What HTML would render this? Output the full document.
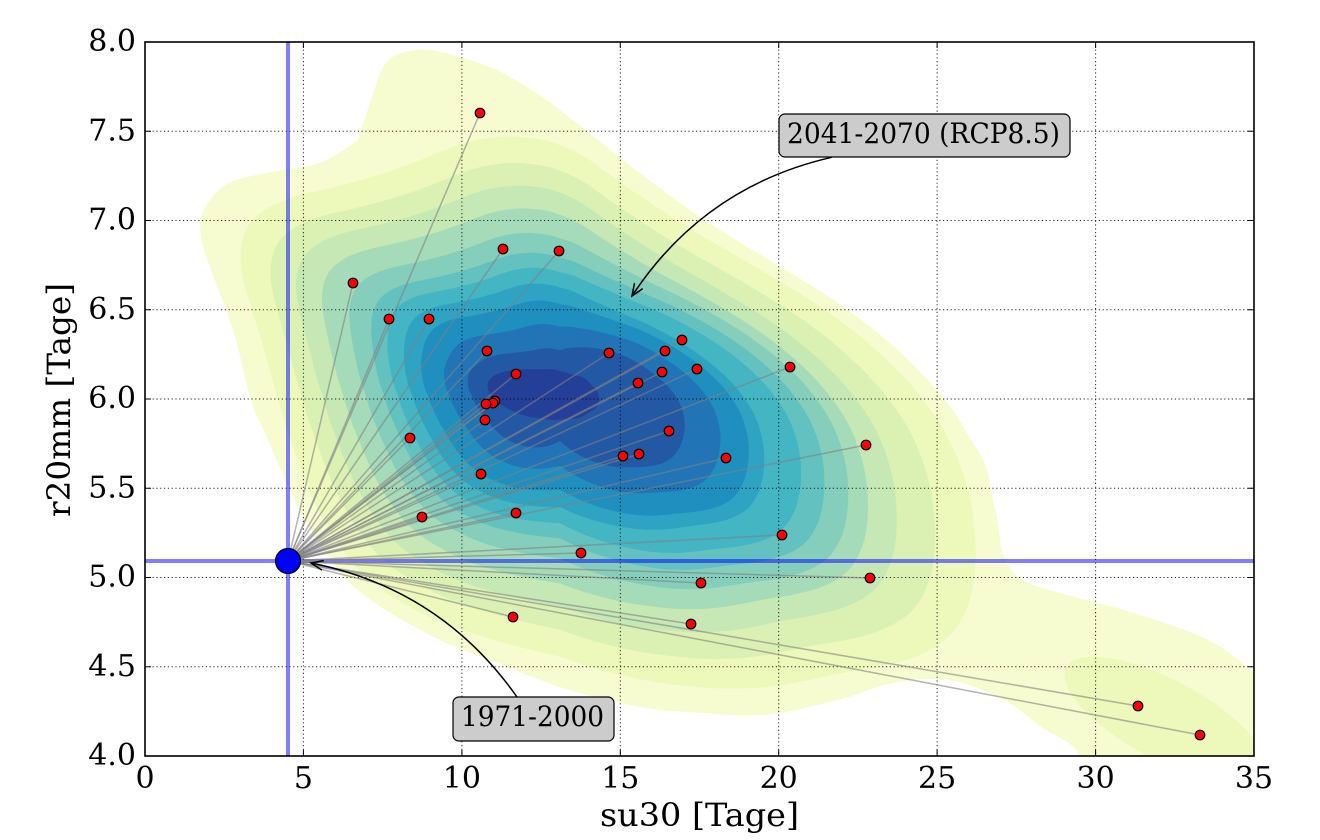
<!DOCTYPE html>
<html>
<head>
<meta charset="utf-8">
<style>
  html,body{margin:0;padding:0;background:#fff;}
  svg{display:block;}
  text{font-family:"DejaVu Serif","Liberation Serif",serif;fill:#000;}
</style>
</head>
<body>
<svg id="svg" xmlns="http://www.w3.org/2000/svg" width="1320" height="840" viewBox="0 0 1320 840">
  <defs>
    <clipPath id="ax"><rect x="145" y="42" width="1109" height="714"/></clipPath>
  </defs>
  <rect x="0" y="0" width="1320" height="840" fill="#fff"/>

  <!-- contours -->
  <g id="contours" clip-path="url(#ax)"></g>

  <!-- grid -->
  <g stroke="#000" stroke-width="1" stroke-dasharray="1.2,2.6" fill="none" opacity="0.85">
    <line x1="303.4" y1="42" x2="303.4" y2="756"/>
    <line x1="461.9" y1="42" x2="461.9" y2="756"/>
    <line x1="620.3" y1="42" x2="620.3" y2="756"/>
    <line x1="778.7" y1="42" x2="778.7" y2="756"/>
    <line x1="937.1" y1="42" x2="937.1" y2="756"/>
    <line x1="1095.6" y1="42" x2="1095.6" y2="756"/>
    <line x1="145" y1="131.25" x2="1254" y2="131.25"/>
    <line x1="145" y1="220.5" x2="1254" y2="220.5"/>
    <line x1="145" y1="309.75" x2="1254" y2="309.75"/>
    <line x1="145" y1="399" x2="1254" y2="399"/>
    <line x1="145" y1="488.25" x2="1254" y2="488.25"/>
    <line x1="145" y1="577.5" x2="1254" y2="577.5"/>
    <line x1="145" y1="666.75" x2="1254" y2="666.75"/>
  </g>

  <!-- blue reference lines -->
  <g clip-path="url(#ax)" stroke="#0000ff" stroke-opacity="0.5" stroke-width="4">
    <line x1="288" y1="42" x2="288" y2="756"/>
    <line x1="145" y1="561" x2="1254" y2="561"/>
  </g>

  <!-- gray connecting lines -->
  <g id="glines" stroke="#808080" stroke-opacity="0.6" stroke-width="1.5" fill="none"></g>
  <!-- red points -->
  <g id="rpts" fill="#ff0000" stroke="#000" stroke-width="1.2"></g>

  <!-- origin point -->
  <circle cx="288" cy="561" r="12.5" fill="#0000ff" stroke="#000" stroke-width="1.2"/>

  <!-- annotation 1 -->
  <path d="M831.7,157.3 Q704,186.5 632,296" fill="none" stroke="#000" stroke-width="1.5"/>
  <path d="M642.7,288.6 L632,296 L634.5,283.2" fill="none" stroke="#000" stroke-width="1.5"/>
  <rect x="779" y="114" width="291" height="43" rx="6" ry="6" fill="#cccccc" stroke="#000" stroke-width="1.2"/>
  <text x="787" y="143" font-size="28" textLength="273" lengthAdjust="spacingAndGlyphs">2041-2070 (RCP8.5)</text>

  <!-- annotation 2 -->
  <path d="M517,697 Q441,589 311,563" fill="none" stroke="#000" stroke-width="1.5"/>
  <path d="M321.9,570.1 L311,563 L323.8,560.6" fill="none" stroke="#000" stroke-width="1.5"/>
  <rect x="453" y="697" width="161" height="44" rx="6" ry="6" fill="#cccccc" stroke="#000" stroke-width="1.2"/>
  <text x="461" y="726" font-size="28" textLength="143" lengthAdjust="spacingAndGlyphs">1971-2000</text>

  <!-- frame -->
  <rect x="145" y="42" width="1109" height="714" fill="none" stroke="#000" stroke-width="1.6"/>

  <!-- ticks -->
  <g stroke="#000" stroke-width="1" id="ticks"></g>

  <!-- y tick labels -->
  <g font-size="30" text-anchor="end">
    <text x="136" y="51">8.0</text>
    <text x="136" y="140.25">7.5</text>
    <text x="136" y="229.5">7.0</text>
    <text x="136" y="318.75">6.5</text>
    <text x="136" y="408">6.0</text>
    <text x="136" y="497.25">5.5</text>
    <text x="136" y="586.5">5.0</text>
    <text x="136" y="675.75">4.5</text>
    <text x="136" y="765">4.0</text>
  </g>
  <!-- x tick labels -->
  <g font-size="30" text-anchor="middle">
    <text x="145" y="788">0</text>
    <text x="303.4" y="788">5</text>
    <text x="461.9" y="788">10</text>
    <text x="620.3" y="788">15</text>
    <text x="778.7" y="788">20</text>
    <text x="937.1" y="788">25</text>
    <text x="1095.6" y="788">30</text>
    <text x="1254" y="788">35</text>
  </g>

  <!-- axis labels -->
  <text x="699.5" y="826" font-size="32" text-anchor="middle" textLength="199" lengthAdjust="spacingAndGlyphs">su30 [Tage]</text>
  <text transform="translate(70,400) rotate(-90)" x="0" y="0" font-size="32" text-anchor="middle" textLength="234" lengthAdjust="spacingAndGlyphs">r20mm [Tage]</text>
</svg>

<script>
(function(){
  var NS = "http://www.w3.org/2000/svg";
  function el(tag, attrs, parent){
    var e = document.createElementNS(NS, tag);
    for (var k in attrs) e.setAttribute(k, attrs[k]);
    if (parent) parent.appendChild(e);
    return e;
  }

  var colors = ["#f7fcd0","#edf8bb","#dbf1b4","#c5e8b5","#a5dbb8","#84cebb","#63c1bf",
                "#43b5c3","#2fa3c2","#1f8fbf","#2175b6","#2358a5","#243f98"];
  var sL = [1, 0.887, 0.786, 0.70, 0.613, 0.52, 0.444, 0.387, 0.327, 0.262, 0.173, 0.08, 0];
  var sR = [1, 0.94, 0.84, 0.745, 0.675, 0.629, 0.571, 0.513, 0.42, 0.383, 0.313, 0.223, 0];

  var P1 = [[361,130],[372,97],[385,64],[405,52],[430,50],[460,57],[497,70],[535,92],[569,117],
            [640,173],[700,217],[764,257],[838,303],[900,352],[945,400],[967,433],[986,467],[993,500],
            [997,517],[1004,557],[1023,580],[1060,593],[1134,613],[1208,640],[1254,673],[1300,720],
            [1300,800],[1080,800],[1078,753],[1041,727],[1004,700],[949,680],[893,683],[838,700],
            [764,715],[690,712],[640,707],[569,690],[497,663],[426,633],[354,587],[311,530],[290,490],
            [268,440],[251,400],[233,330],[211,270],[201,237],[204,210],[229,183],[283,170],[319,163],[354,143]];

  var PB = [[229,183],[283,172],[330,160],[393,140],[440,118],[475,108],[520,106],[569,117],
            [640,173],[700,217],[764,257],[838,303],[900,352],[945,400],[967,433],[986,467],[993,500],
            [1004,557],[1000,610],[985,655],[960,675],[949,680],[893,683],[838,700],[764,715],[690,712],
            [640,707],[569,690],[497,663],[426,633],[354,587],[311,530],[290,490],[268,440],[251,400],
            [233,330],[211,270],[201,237],[204,210]];

  var PI = [[483,383],[495,374],[513,370],[553,369],[585,378],[600,395],[598,407],[580,418],
            [553,420],[525,416],[497,403]];

  var CX = 560, CY = 395;

  function crPath(pts){
    var n = pts.length, d = "M" + pts[0][0] + "," + pts[0][1];
    for (var i=0;i<n;i++){
      var p0=pts[(i-1+n)%n], p1=pts[i], p2=pts[(i+1)%n], p3=pts[(i+2)%n];
      var c1x=p1[0]+(p2[0]-p0[0])/6, c1y=p1[1]+(p2[1]-p0[1])/6;
      var c2x=p2[0]-(p3[0]-p1[0])/6, c2y=p2[1]-(p3[1]-p1[1])/6;
      d += "C"+c1x.toFixed(1)+","+c1y.toFixed(1)+" "+c2x.toFixed(1)+","+c2y.toFixed(1)+" "+p2[0]+","+p2[1];
    }
    return d + "Z";
  }

  function rayR(poly, th){
    var dx=Math.cos(th), dy=-Math.sin(th), best=0;
    for (var i=0;i<poly.length;i++){
      var a=poly[i], b=poly[(i+1)%poly.length];
      var ex=b[0]-a[0], ey=b[1]-a[1];
      var den=dx*ey-dy*ex;
      if (Math.abs(den)<1e-9) continue;
      var ax=a[0]-CX, ay=a[1]-CY;
      var t=(ax*ey-ay*ex)/den, u=(ax*dy-ay*dx)/den;
      if (t>0 && u>=-1e-9 && u<=1+1e-9) best=Math.max(best,t);
    }
    return best;
  }

  function smooth(arr, w){
    var n=arr.length, out=new Array(n);
    for (var i=0;i<n;i++){
      var s=0,c=0;
      for (var j=-w;j<=w;j++){ s+=arr[(i+j+n)%n]; c++; }
      out[i]=s/c;
    }
    return out;
  }

  var N=360, rB=[], rI=[], ths=[];
  for (var i=0;i<N;i++){
    var th = i*2*Math.PI/N;
    ths.push(th);
    rB.push(rayR(PB, th));
    rI.push(rayR(PI, th));
  }
  rB = smooth(rB, 6);
  rI = smooth(rI, 8);

  var g = document.getElementById("contours");
  el("path", {d: crPath(P1), fill: colors[0]}, g);
  el("ellipse", {cx:1165, cy:720, rx:112, ry:40, transform:"rotate(28 1165 720)", fill: colors[1]}, g);

  for (var k=1;k<13;k++){
    var d="";
    for (var i=0;i<N;i++){
      var th=ths[i], c=Math.max(0, Math.cos(th));
      var s = sL[k] + (sR[k]-sL[k])*c;
      // slight boost toward lower-left
      var wDL = Math.max(0,-Math.sin(th))*Math.max(0,-Math.cos(th))*2;
      if (k<12) s = Math.min(0.98, s + 0.06*wDL);
      var r = rI[i] + (rB[i]-rI[i])*s;
      var x = CX + r*Math.cos(th), y = CY - r*Math.sin(th);
      d += (i===0?"M":"L") + x.toFixed(1) + "," + y.toFixed(1);
    }
    d += "Z";
    el("path", {d:d, fill: colors[k]}, g);
  }

  var pts = [[480,113],[353,283],[503,249],[559,251],[389,319],[429,319],[487,351],[609,353],
             [682,340],[665,351],[516,374],[662,372],[697,369],[638,383],[790,367],[495,401],
             [493,403],[486,404],[485,420],[410,438],[669,431],[623,456],[639,454],[726,458],
             [866,445],[481,474],[422,517],[516,513],[782,535],[581,553],[701,583],[870,578],
             [513,617],[691,624],[1138,706],[1200,735]];
  var gl = document.getElementById("glines"), gp = document.getElementById("rpts");
  pts.forEach(function(p){
    el("line", {x1:288, y1:561, x2:p[0], y2:p[1]}, gl);
  });
  pts.forEach(function(p){
    el("circle", {cx:p[0], cy:p[1], r:4.8}, gp);
  });

  var gt = document.getElementById("ticks");
  var xt=[145,303.4,461.9,620.3,778.7,937.1,1095.6,1254];
  var yt=[42,131.25,220.5,309.75,399,488.25,577.5,666.75,756];
  var L=6;
  xt.forEach(function(x){
    el("line",{x1:x,y1:756,x2:x,y2:756-L},gt);
    el("line",{x1:x,y1:42,x2:x,y2:42+L},gt);
  });
  yt.forEach(function(y){
    el("line",{x1:145,y1:y,x2:145+L,y2:y},gt);
    el("line",{x1:1254,y1:y,x2:1254-L,y2:y},gt);
  });
})();
</script>
</body>
</html>
